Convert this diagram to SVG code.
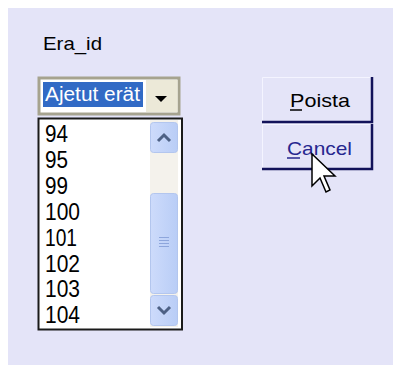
<svg xmlns="http://www.w3.org/2000/svg" width="393" height="365" viewBox="0 0 393 365">
<style>
text{font-family:"Liberation Sans",Arial,sans-serif}
.item{font-size:23px;fill:#000}
.btn{font-size:19px}
</style>
<defs>
<linearGradient id="sb" x1="0" y1="0" x2="1" y2="0">
<stop offset="0" stop-color="#cddbfb"/><stop offset="1" stop-color="#b9cdf6"/>
</linearGradient>
</defs>
<rect width="393" height="365" fill="#ffffff"/>
<rect x="8" y="8" width="385" height="357" fill="#e4e4f8"/>
<g id="label">
<text x="43" y="50" font-size="19" textLength="59" lengthAdjust="spacingAndGlyphs">Era_id</text>
</g>
<g id="combo">
<rect x="39" y="78" width="140" height="36" fill="#ffffff" stroke="#a6a38f" stroke-width="3"/>
<rect x="43" y="82" width="100" height="25" fill="#316ac5"/>
<text x="45" y="101" font-size="20" fill="#ffffff" textLength="95" lengthAdjust="spacingAndGlyphs">Ajetut erät</text>
<rect x="146" y="80" width="31.5" height="32" fill="#ece9d8"/>
<polygon points="155,96 167,96 161,102" fill="#000"/>
</g>
<g id="list">
<rect x="38.5" y="118.5" width="143.5" height="211" fill="#ffffff" stroke="#1a1a1a" stroke-width="2"/>
<rect x="150" y="120" width="28" height="207" fill="#f4f2ec"/>
<rect x="150.5" y="122.5" width="27" height="30" rx="3" fill="url(#sb)" stroke="#b3c6ee"/>
<polyline points="158,141 164,135 170,141" fill="none" stroke="#4d6185" stroke-width="3"/>
<rect x="150.5" y="193.5" width="27" height="100" rx="3" fill="url(#sb)" stroke="#b3c6ee"/>
<g stroke="#8ea6dc" stroke-width="1">
<line x1="159" y1="237.5" x2="169" y2="237.5"/>
<line x1="159" y1="240.5" x2="169" y2="240.5"/>
<line x1="159" y1="243.5" x2="169" y2="243.5"/>
<line x1="159" y1="246.5" x2="169" y2="246.5"/>
</g>
<rect x="150.5" y="295.5" width="27" height="30" rx="3" fill="url(#sb)" stroke="#b3c6ee"/>
<polyline points="158,307 164,313 170,307" fill="none" stroke="#4d6185" stroke-width="3"/>
<text class="item" x="45" y="142" textLength="23" lengthAdjust="spacingAndGlyphs">94</text>
<text class="item" x="45" y="168" textLength="23" lengthAdjust="spacingAndGlyphs">95</text>
<text class="item" x="45" y="194" textLength="23" lengthAdjust="spacingAndGlyphs">99</text>
<text class="item" x="45" y="220" textLength="35" lengthAdjust="spacingAndGlyphs">100</text>
<text class="item" x="45" y="246" textLength="32" lengthAdjust="spacingAndGlyphs">101</text>
<text class="item" x="45" y="272" textLength="35" lengthAdjust="spacingAndGlyphs">102</text>
<text class="item" x="45" y="297" textLength="35" lengthAdjust="spacingAndGlyphs">103</text>
<text class="item" x="45" y="323" textLength="35" lengthAdjust="spacingAndGlyphs">104</text>
</g>
<g id="poista">
<rect x="262" y="77" width="111" height="46" fill="#e4e4f8"/>
<polyline points="262.5,122 262.5,77.5 372,77.5" fill="none" stroke="#f4f4ff" stroke-width="1"/>
<polyline points="262,122 372,122 372,77" fill="none" stroke="#12125a" stroke-width="2.5"/>
<text class="btn" x="290" y="107" textLength="60" lengthAdjust="spacingAndGlyphs" fill="#000">Poista</text>
<line x1="290" y1="110" x2="302" y2="110" stroke="#000" stroke-width="1.5"/>
</g>
<g id="cancel">
<rect x="262" y="124" width="111" height="46" fill="#e4e4f8"/>
<polyline points="262.5,169 262.5,124.5 372,124.5" fill="none" stroke="#f4f4ff" stroke-width="1"/>
<polyline points="262,169 372,169 372,124" fill="none" stroke="#12125a" stroke-width="2.5"/>
<text class="btn" x="287" y="155" textLength="65" lengthAdjust="spacingAndGlyphs" fill="#26268f">Cancel</text>
<line x1="287" y1="158" x2="300" y2="158" stroke="#26268f" stroke-width="1.5"/>
</g>
<g id="cursor">
<path d="M312,154 L312,186 L320,178 L326,192 L330,190 L324,176 L335,176 Z" fill="#ffffff" stroke="#000" stroke-width="1.5" stroke-linejoin="miter"/>
</g>
</svg>
